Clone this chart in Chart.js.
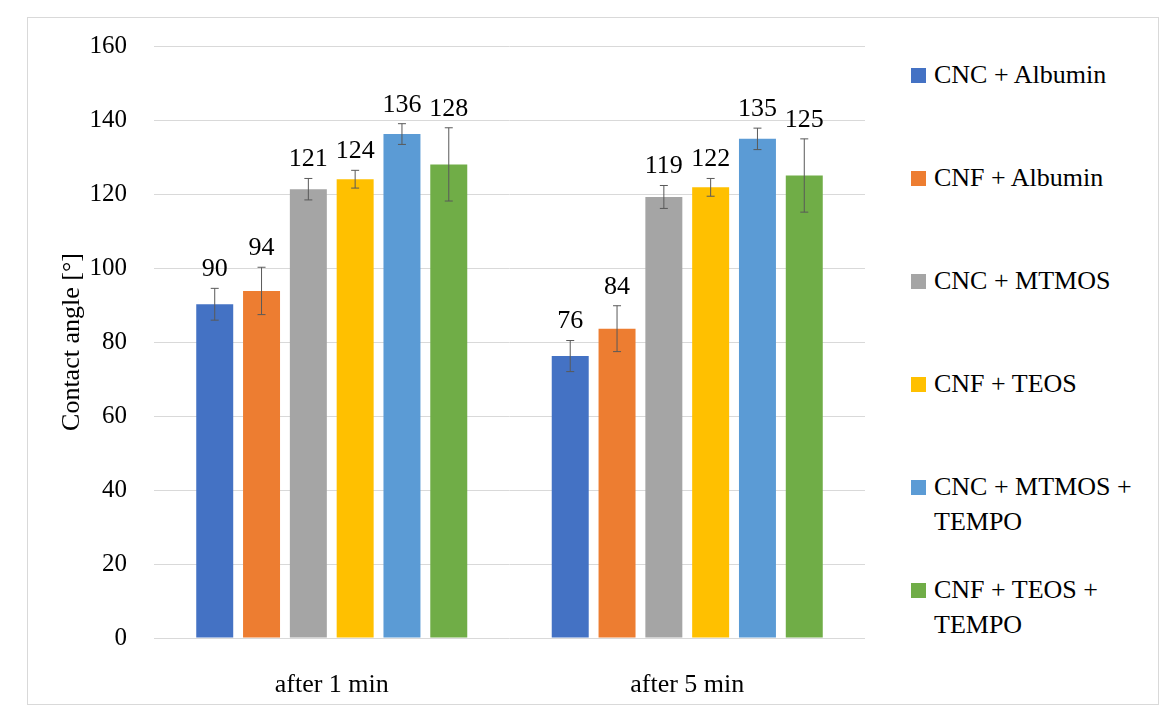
<!DOCTYPE html>
<html>
<head>
<meta charset="utf-8">
<script src="https://cdn.jsdelivr.net/npm/chart.js@4"></script>
<style>
    body { margin: 0; background: #fff; font-family: "Liberation Serif", serif; }
    .frame { position: absolute; left: 27px; top: 17px; width: 1130px; height: 686px; border: 1px solid #d9d9d9; }
    .chart-box { position: absolute; left: 28px; top: 4px; width: 850px; height: 699px; }
    .legend { position: absolute; left: 911px; top: 57px; }
    .legend-item { height: 103px; display: flex; align-items: flex-start; }
    .legend-swatch { width: 15px; height: 15px; margin-top: 11px; margin-right: 8px; flex: none; }
    .legend-text { font-size: 26px; line-height: 35px; color: #000; white-space: pre-line; }
</style>
</head>
<body>
<div class="frame"></div>
<div class="chart-box"><canvas id="contactChart"></canvas></div>
<div class="legend" id="legend"></div>
<script>
const categories = ['after 1 min', 'after 5 min'];
const seriesNames = [
    'CNC + Albumin',
    'CNF + Albumin',
    'CNC + MTMOS',
    'CNF + TEOS',
    'CNC + MTMOS +\nTEMPO',
    'CNF + TEOS +\nTEMPO'
];
const seriesColors = ['#4472C4', '#ED7D31', '#A5A5A5', '#FFC000', '#5B9BD5', '#70AD47'];

// contact angle per series: [after 1 min, after 5 min]
const cncAlbumin = [90.2, 76.2];
const cnfAlbumin = [93.8, 83.6];
const cncMtmos = [121.3, 119.2];
const cnfTeos = [124.0, 121.8];
const cncMtmosTempo = [136.2, 134.9];
const cnfTeosTempo = [128.0, 125.0];

// standard deviation per series
const cncAlbuminErr = [4.3, 4.2];
const cnfAlbuminErr = [6.4, 6.2];
const cncMtmosErr = [2.9, 3.1];
const cnfTeosErr = [2.4, 2.4];
const cncMtmosTempoErr = [2.8, 2.9];
const cnfTeosTempoErr = [9.9, 9.9];

const yTicks = [0, 20, 40, 60, 80, 100, 120, 140, 160];

const seriesValues = [cncAlbumin, cnfAlbumin, cncMtmos, cnfTeos, cncMtmosTempo, cnfTeosTempo];
const seriesErrors = [cncAlbuminErr, cnfAlbuminErr, cncMtmosErr, cnfTeosErr, cncMtmosTempoErr, cnfTeosTempoErr];

const FONT = '"Liberation Serif", serif';

// error bars and value labels on top of each bar
const errorBarPlugin = {
    id: 'errorBars',
    afterDatasetsDraw(chart) {
        const ctx = chart.ctx;
        const yScale = chart.scales.y;
        chart.data.datasets.forEach((ds, di) => {
            const meta = chart.getDatasetMeta(di);
            meta.data.forEach((bar, i) => {
                const v = ds.data[i];
                const e = seriesErrors[di][i];
                const yTop = yScale.getPixelForValue(v + e);
                const yBot = yScale.getPixelForValue(v - e);
                ctx.save();
                ctx.strokeStyle = '#595959';
                ctx.lineWidth = 1;
                ctx.beginPath();
                ctx.moveTo(bar.x, yTop);
                ctx.lineTo(bar.x, yBot);
                ctx.moveTo(bar.x - 4, yTop);
                ctx.lineTo(bar.x + 4, yTop);
                ctx.moveTo(bar.x - 4, yBot);
                ctx.lineTo(bar.x + 4, yBot);
                ctx.stroke();

                ctx.fillStyle = '#000';
                ctx.font = '26px ' + FONT;
                ctx.textAlign = 'center';
                ctx.textBaseline = 'bottom';
                ctx.fillText(Math.round(v).toString(), bar.x, yTop - 6);
                ctx.restore();
            });
        });
    }
};

const chart = new Chart(document.getElementById('contactChart'), {
    type: 'bar',
    data: {
        labels: categories,
        datasets: seriesNames.map((name, i) => ({
            label: name,
            data: seriesValues[i],
            backgroundColor: seriesColors[i],
            categoryPercentage: 0.79,
            barPercentage: 0.79
        }))
    },
    options: {
        responsive: true,
        maintainAspectRatio: false,
        animation: false,
        layout: {
            padding: { left: 25, top: 11, right: 13, bottom: 0 }
        },
        plugins: {
            legend: { display: false },
            tooltip: { enabled: false }
        },
        scales: {
            x: {
                grid: { display: false },
                border: { display: false },
                ticks: {
                    color: '#000',
                    padding: 24,
                    font: { family: FONT, size: 26 }
                },
                afterFit(scale) { scale.height = 65; }
            },
            y: {
                min: 0,
                max: 160,
                afterBuildTicks(scale) {
                    scale.ticks = yTicks.map(v => ({ value: v }));
                },
                grid: { color: '#d9d9d9', drawTicks: false },
                border: { display: false },
                ticks: {
                    color: '#000',
                    padding: 27,
                    font: { family: FONT, size: 25 }
                },
                title: {
                    display: true,
                    text: 'Contact angle [°]',
                    color: '#000',
                    padding: 4,
                    font: { family: FONT, size: 26 }
                },
                afterFit(scale) { scale.width = 101; }
            }
        }
    },
    plugins: [errorBarPlugin]
});

// legend on the right, with wrapped names
const legendEl = document.getElementById('legend');
legendEl.innerHTML = seriesNames.map((name, i) => `
    <div class="legend-item">
        <span class="legend-swatch" style="background:${seriesColors[i]}"></span>
        <span class="legend-text">${name}</span>
    </div>
`).join('');
</script>
</body>
</html>
